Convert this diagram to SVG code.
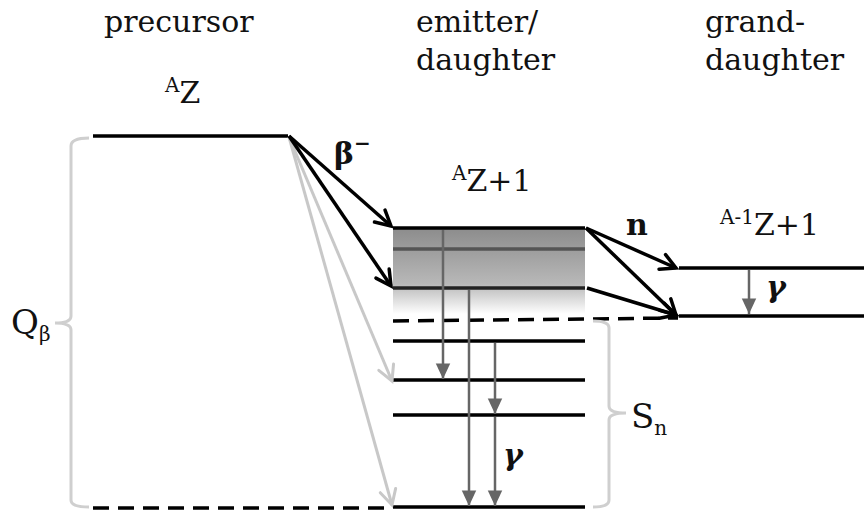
<svg xmlns="http://www.w3.org/2000/svg" width="864" height="517" viewBox="0 0 864 517">
<style>
text{font-family:"DejaVu Serif","Liberation Serif",serif;fill:#111}
.lbl{font-size:30px}
.big{font-size:34px}
.sup{font-size:20px}
.b{font-weight:bold}
.gm{font-weight:bold;font-style:italic;font-size:30px}
.lvl{stroke:#000;stroke-width:3.5;fill:none}
.dash{stroke:#000;stroke-width:3.5;stroke-dasharray:16 9;fill:none}
.arr{stroke:#000;stroke-width:3.5;fill:none;marker-end:url(#chev)}
.garr{stroke:#c8c8c8;stroke-width:3;fill:none;marker-end:url(#gchev)}
.gam{stroke:#666;stroke-width:2.5;fill:none;marker-end:url(#tri)}
.brace{stroke:#cfcfcf;stroke-width:3;fill:none}
</style>
<defs>
<marker id="chev" markerUnits="userSpaceOnUse" markerWidth="30" markerHeight="30" viewBox="-20 -15 30 30" refX="0" refY="0" orient="auto" overflow="visible">
<path d="M-15,-8 L0,0 L-15,8" fill="none" stroke="#000" stroke-width="3.5" stroke-linecap="round" stroke-linejoin="miter"/>
</marker>
<marker id="gchev" markerUnits="userSpaceOnUse" markerWidth="30" markerHeight="30" viewBox="-20 -15 30 30" refX="0" refY="0" orient="auto" overflow="visible">
<path d="M-15,-8 L0,0 L-15,8" fill="none" stroke="#c8c8c8" stroke-width="3" stroke-linecap="round"/>
</marker>
<marker id="tri" markerUnits="userSpaceOnUse" markerWidth="20" markerHeight="20" viewBox="-16 -8 18 16" refX="0" refY="0" orient="auto" overflow="visible">
<path d="M-14,-6.5 L0,0 L-14,6.5 Z" fill="#666"/>
</marker>
<linearGradient id="band" x1="0" y1="0" x2="0" y2="1">
<stop offset="0" stop-color="#8c8c8c"/>
<stop offset="0.65" stop-color="#b8b8b8"/>
<stop offset="1" stop-color="#ffffff"/>
</linearGradient>
</defs>

<g id="titles">
<text class="lbl" x="104" y="32">precursor</text>
<text class="lbl" x="416" y="32">emitter/</text>
<text class="lbl" x="416" y="70">daughter</text>
<text class="lbl" x="705" y="32">grand-</text>
<text class="lbl" x="705" y="70">daughter</text>
</g>

<g id="precursor">
<text x="165" y="103"><tspan class="sup" dy="-11">A</tspan><tspan class="lbl" dy="11">Z</tspan></text>
<line class="lvl" x1="93" y1="136" x2="288" y2="136"/>
</g>

<g id="emitter">
<rect x="393" y="228" width="192" height="86" fill="url(#band)"/>
<text x="452" y="191"><tspan class="sup" dy="-11">A</tspan><tspan class="lbl" dy="11">Z+1</tspan></text>
<line class="lvl" x1="393" y1="228" x2="585" y2="228"/>
<line x1="393" y1="249" x2="585" y2="249" stroke="#555" stroke-width="3.5"/>
<line x1="393" y1="288" x2="585" y2="288" stroke="#222" stroke-width="3.5"/>
<line class="dash" x1="393" y1="321" x2="678" y2="318"/>
<line class="lvl" x1="393" y1="341" x2="585" y2="341"/>
<line class="lvl" x1="393" y1="380" x2="585" y2="380"/>
<line class="lvl" x1="393" y1="415" x2="585" y2="415"/>
<line class="dash" x1="93" y1="508" x2="386" y2="508"/>
<line class="lvl" x1="393" y1="507" x2="585" y2="507"/>
</g>

<g id="granddaughter">
<text x="720" y="235"><tspan class="sup" dy="-11">A-1</tspan><tspan class="lbl" dy="11">Z+1</tspan></text>
<line class="lvl" x1="679" y1="268" x2="864" y2="268"/>
<line class="lvl" x1="679" y1="316" x2="864" y2="316"/>
</g>

<g id="braces">
<path class="brace" d="M89,138 Q71,138 71,146 L71,316 Q71,323 55,323 Q71,323 71,330 L71,500 Q71,507 89,507"/>
<text x="11" y="334"><tspan class="big">Q</tspan><tspan class="sup" dy="7">β</tspan></text>
<path class="brace" d="M593,321 Q609,321 609,328 L609,406 Q609,413 626,413 Q609,413 609,420 L609,500 Q609,507 593,507"/>
<text x="631" y="428"><tspan class="big">S</tspan><tspan class="sup" dy="7">n</tspan></text>
</g>

<g id="connectors">
<line class="garr" x1="289" y1="137" x2="392" y2="381"/>
<line class="garr" x1="289" y1="137" x2="392" y2="505"/>
<line class="arr" x1="289" y1="136" x2="391" y2="226"/>
<line class="arr" x1="289" y1="136" x2="391" y2="286"/>
<line class="arr" x1="586" y1="228" x2="676" y2="268"/>
<line class="arr" x1="586" y1="228" x2="676" y2="315"/>
<line class="arr" x1="587" y1="288" x2="676" y2="315"/>
<line class="gam" x1="443" y1="230" x2="443" y2="379"/>
<line class="gam" x1="469" y1="290" x2="469" y2="506"/>
<line class="gam" x1="495" y1="343" x2="495" y2="414"/>
<line class="gam" x1="495" y1="417" x2="495" y2="506"/>
<line class="gam" x1="749" y1="270" x2="749" y2="314"/>
<text class="lbl b" x="334" y="164">β<tspan class="sup" dy="-14">−</tspan></text>
<text class="lbl b" x="626" y="235">n</text>
<text class="gm" x="766" y="297">γ</text>
<text class="gm" x="503" y="465">γ</text>
</g>
</svg>
